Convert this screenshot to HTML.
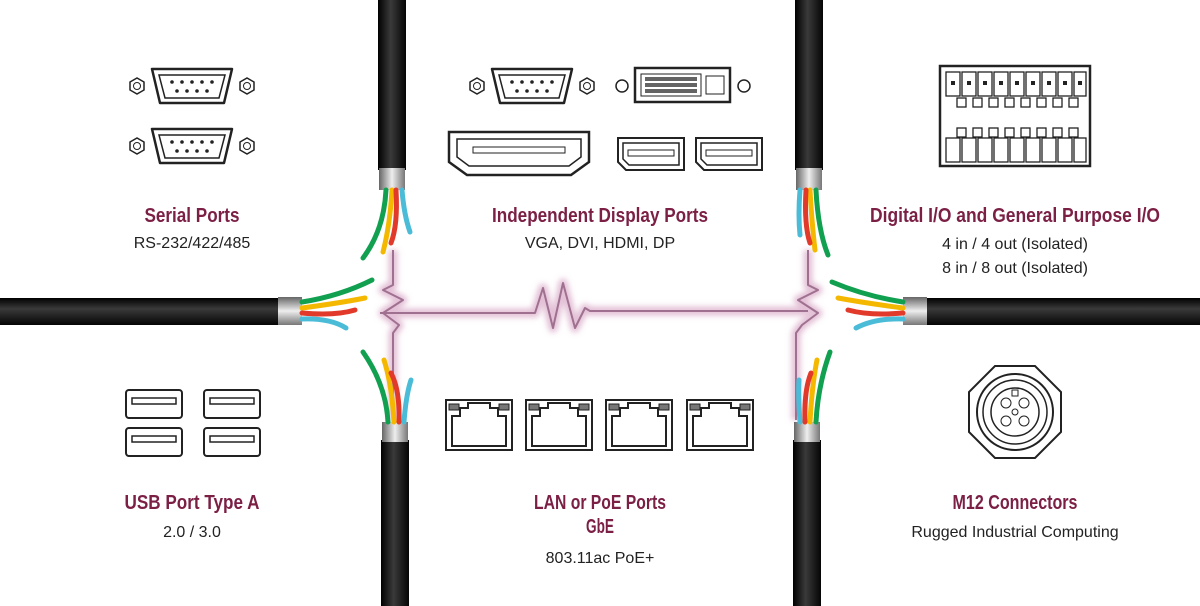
<!DOCTYPE html>
<html><head><meta charset="utf-8"><style>
html,body{margin:0;padding:0;background:#fff;}
svg{display:block}
.t{font-family:"Liberation Sans Narrow","Liberation Sans",sans-serif;font-weight:bold;fill:#7b1f45;font-size:20px;text-anchor:middle}
.s{font-family:"Liberation Sans Narrow","Liberation Sans",sans-serif;fill:#222;font-size:16px;text-anchor:middle}
</style></head><body>
<svg width="1200" height="606" viewBox="0 0 1200 606" xmlns="http://www.w3.org/2000/svg">
<defs>
<linearGradient id="bv" x1="0" x2="1" y1="0" y2="0"><stop offset="0" stop-color="#000"/><stop offset=".45" stop-color="#3a3a3a"/><stop offset="1" stop-color="#050505"/></linearGradient>
<linearGradient id="bh" x1="0" x2="0" y1="0" y2="1"><stop offset="0" stop-color="#000"/><stop offset=".4" stop-color="#3a3a3a"/><stop offset="1" stop-color="#050505"/></linearGradient>
<linearGradient id="sv" x1="0" x2="1" y1="0" y2="0"><stop offset="0" stop-color="#666"/><stop offset=".5" stop-color="#eee"/><stop offset="1" stop-color="#777"/></linearGradient>
<linearGradient id="sh" x1="0" x2="0" y1="0" y2="1"><stop offset="0" stop-color="#666"/><stop offset=".5" stop-color="#eee"/><stop offset="1" stop-color="#777"/></linearGradient>
<g id="lan"><rect x="0" y="0" width="66" height="50" fill="#fff" stroke="#222" stroke-width="2"/><path d="M6 46V16h8V8h8V3h22v5h8v8h8v30z" fill="none" stroke="#222" stroke-width="2"/><rect x="3" y="4" width="10" height="6" fill="#777" stroke="#222"/><rect x="53" y="4" width="10" height="6" fill="#777" stroke="#222"/></g>
<g id="usb"><rect x="0" y="0" width="56" height="28" rx="3" fill="#fff" stroke="#222" stroke-width="2"/><rect x="6" y="8" width="44" height="6" fill="none" stroke="#222" stroke-width="1.5"/></g>
<g id="db9"><path d="M-40 -17h80l-8 34h-64z" fill="#fff" stroke="#222" stroke-width="2.5" stroke-linejoin="round"/><path d="M-33 -11h66l-6 23h-54z" fill="none" stroke="#222" stroke-width="1.5"/>
<g fill="#222"><circle cx="-20" cy="-4" r="1.8"/><circle cx="-10" cy="-4" r="1.8"/><circle cx="0" cy="-4" r="1.8"/><circle cx="10" cy="-4" r="1.8"/><circle cx="20" cy="-4" r="1.8"/><circle cx="-15" cy="5" r="1.8"/><circle cx="-5" cy="5" r="1.8"/><circle cx="5" cy="5" r="1.8"/><circle cx="15" cy="5" r="1.8"/></g>
<polygon points="-62,-8 -55,-12 -48,-8 -48,0 -55,4 -62,0" transform="translate(0,4)" fill="#fff" stroke="#222" stroke-width="1.5"/><circle cx="-55" cy="0" r="3.5" fill="none" stroke="#222"/>
<polygon points="48,-8 55,-12 62,-8 62,0 55,4 48,0" transform="translate(0,4)" fill="#fff" stroke="#222" stroke-width="1.5"/><circle cx="55" cy="0" r="3.5" fill="none" stroke="#222"/></g>
<g id="dp"><path d="M0 0h66v32h-58l-8-8z" fill="#fff" stroke="#222" stroke-width="2"/><path d="M5 5h56v22h-50l-6-6z" fill="none" stroke="#222" stroke-width="1.5"/><rect x="10" y="12" width="46" height="6" fill="#fff" stroke="#222"/></g>
<filter id="glow"><feGaussianBlur stdDeviation="3"/></filter>
</defs>

<g fill="none" stroke-linejoin="round">
<path d="M380 313H535l8-25l10 40l10-45l12 45l10-20l5 3H808M393 250V285l-10 5l20 10l-20 13l16 12l-6 8V420M808 250V285l10 5l-20 10l20 13l-16 12l-6 8V420" stroke="#e3c0d6" stroke-width="9" filter="url(#glow)"/>
<path d="M380 313H535l8-25l10 40l10-45l12 45l10-20l5 3H808M393 250V285l-10 5l20 10l-20 13l16 12l-6 8V420M808 250V285l10 5l-20 10l20 13l-16 12l-6 8V420" stroke="#a07090" stroke-width="2"/>
</g>

<g>
<rect x="378" y="0" width="28" height="170" fill="url(#bv)"/><rect x="379" y="168" width="26" height="22" fill="url(#sv)"/>
<rect x="381" y="440" width="28" height="166" fill="url(#bv)"/><rect x="382" y="422" width="26" height="20" fill="url(#sv)"/>
<rect x="795" y="0" width="28" height="170" fill="url(#bv)"/><rect x="796" y="168" width="26" height="22" fill="url(#sv)"/>
<rect x="793" y="440" width="28" height="166" fill="url(#bv)"/><rect x="794" y="422" width="26" height="20" fill="url(#sv)"/>
<rect x="0" y="298" width="280" height="27" fill="url(#bh)"/><rect x="278" y="297" width="24" height="28" fill="url(#sh)"/>
<rect x="925" y="298" width="275" height="27" fill="url(#bh)"/><rect x="903" y="297" width="24" height="28" fill="url(#sh)"/>
</g>
<g fill="none" stroke-width="5" stroke-linecap="round">
<path d="M386 190Q384 230 363 258" stroke="#10a050"/><path d="M392 190Q390 225 383 252" stroke="#f5b800"/><path d="M396 190Q398 225 391 243" stroke="#e23a2a"/><path d="M402 190Q404 215 410 232" stroke="#4bbcd8"/>
<path d="M388 422Q386 385 363 352" stroke="#10a050"/><path d="M394 422Q392 385 384 360" stroke="#f5b800"/><path d="M399 422Q400 390 391 373" stroke="#e23a2a"/><path d="M404 422Q406 395 411 380" stroke="#4bbcd8"/>
<path d="M816 190Q818 230 828 255" stroke="#10a050"/><path d="M810 190Q812 225 815 250" stroke="#f5b800"/><path d="M806 190Q804 225 810 243" stroke="#e23a2a"/><path d="M800 190Q798 215 800 235" stroke="#4bbcd8"/>
<path d="M816 422Q818 385 830 352" stroke="#10a050"/><path d="M810 422Q812 385 817 360" stroke="#f5b800"/><path d="M805 422Q804 390 811 373" stroke="#e23a2a"/><path d="M800 422Q798 395 799 380" stroke="#4bbcd8"/>
<path d="M302 302Q340 296 372 280" stroke="#10a050"/><path d="M302 308Q340 303 365 298" stroke="#f5b800"/><path d="M302 313Q335 316 355 310" stroke="#e23a2a"/><path d="M302 319Q330 318 346 328" stroke="#4bbcd8"/>
<path d="M903 302Q865 296 832 282" stroke="#10a050"/><path d="M903 308Q865 303 838 298" stroke="#f5b800"/><path d="M903 313Q870 316 848 310" stroke="#e23a2a"/><path d="M903 319Q875 318 856 328" stroke="#4bbcd8"/>
</g>

<use href="#db9" x="192" y="86"/><use href="#db9" x="192" y="146"/>
<g transform="translate(532,86)"><use href="#db9"/></g>
<g transform="translate(635,68)"><rect width="95" height="34" fill="#fff" stroke="#222" stroke-width="2.5"/><g stroke="#222" fill="none"><rect x="6" y="6" width="60" height="22"/></g>
<g fill="#222"><rect x="10" y="9" width="52" height="4" opacity=".7"/><rect x="10" y="15" width="52" height="4" opacity=".7"/><rect x="10" y="21" width="52" height="4" opacity=".7"/></g><rect x="71" y="8" width="18" height="18" fill="none" stroke="#222"/></g>
<circle cx="622" cy="86" r="6" fill="none" stroke="#222" stroke-width="1.5"/><circle cx="744" cy="86" r="6" fill="none" stroke="#222" stroke-width="1.5"/>
<g transform="translate(449,132)"><path d="M0 0h140v30l-18 13h-104l-18-13z" fill="#fff" stroke="#222" stroke-width="2.5"/><path d="M8 7h124v18l-12 9h-100l-12-9z" fill="none" stroke="#222" stroke-width="1.5"/><rect x="24" y="15" width="92" height="6" fill="#fff" stroke="#222"/></g>
<use href="#dp" x="618" y="138"/><use href="#dp" x="696" y="138"/>
<g transform="translate(940,66)"><rect width="150" height="100" fill="#fff" stroke="#222" stroke-width="2.5"/>
<g fill="#fff" stroke="#222" stroke-width="1.3">
<rect x="6" y="6" width="14" height="24"/><rect x="22" y="6" width="14" height="24"/><rect x="38" y="6" width="14" height="24"/><rect x="54" y="6" width="14" height="24"/><rect x="70" y="6" width="14" height="24"/><rect x="86" y="6" width="14" height="24"/><rect x="102" y="6" width="14" height="24"/><rect x="118" y="6" width="14" height="24"/><rect x="134" y="6" width="12" height="24"/>
<rect x="17" y="32" width="9" height="9"/><rect x="33" y="32" width="9" height="9"/><rect x="49" y="32" width="9" height="9"/><rect x="65" y="32" width="9" height="9"/><rect x="81" y="32" width="9" height="9"/><rect x="97" y="32" width="9" height="9"/><rect x="113" y="32" width="9" height="9"/><rect x="129" y="32" width="9" height="9"/>
<rect x="17" y="62" width="9" height="9"/><rect x="33" y="62" width="9" height="9"/><rect x="49" y="62" width="9" height="9"/><rect x="65" y="62" width="9" height="9"/><rect x="81" y="62" width="9" height="9"/><rect x="97" y="62" width="9" height="9"/><rect x="113" y="62" width="9" height="9"/><rect x="129" y="62" width="9" height="9"/>
<rect x="6" y="72" width="14" height="24"/><rect x="22" y="72" width="14" height="24"/><rect x="38" y="72" width="14" height="24"/><rect x="54" y="72" width="14" height="24"/><rect x="70" y="72" width="14" height="24"/><rect x="86" y="72" width="14" height="24"/><rect x="102" y="72" width="14" height="24"/><rect x="118" y="72" width="14" height="24"/><rect x="134" y="72" width="12" height="24"/>
</g>
<g fill="#222"><rect x="11" y="15" width="4" height="4"/><rect x="27" y="15" width="4" height="4"/><rect x="43" y="15" width="4" height="4"/><rect x="59" y="15" width="4" height="4"/><rect x="75" y="15" width="4" height="4"/><rect x="91" y="15" width="4" height="4"/><rect x="107" y="15" width="4" height="4"/><rect x="123" y="15" width="4" height="4"/><rect x="138" y="15" width="4" height="4"/></g></g>
<use href="#usb" x="126" y="390"/><use href="#usb" x="204" y="390"/><use href="#usb" x="126" y="428"/><use href="#usb" x="204" y="428"/>
<use href="#lan" x="446" y="400"/><use href="#lan" x="526" y="400"/><use href="#lan" x="606" y="400"/><use href="#lan" x="687" y="400"/>
<g transform="translate(1015,412)" fill="none" stroke="#222">
<path d="M-20 -46h40l26 26v40l-26 26h-40l-26-26v-40z" stroke-width="2"/>
<circle r="38" stroke-width="2"/><circle r="32" stroke-width="1.5"/><circle r="24" stroke-width="1.5"/>
<circle cx="-9" cy="-9" r="5"/><circle cx="9" cy="-9" r="5"/><circle cx="-9" cy="9" r="5"/><circle cx="9" cy="9" r="5"/><circle r="3"/><rect x="-3" y="-22" width="6" height="6"/>
</g>

<text class="t" x="192" y="222" textLength="95" lengthAdjust="spacingAndGlyphs">Serial Ports</text><text class="s" x="192" y="248">RS-232/422/485</text>
<text class="t" x="600" y="222" textLength="216" lengthAdjust="spacingAndGlyphs">Independent Display Ports</text><text class="s" x="600" y="248">VGA, DVI, HDMI, DP</text>
<text class="t" x="1015" y="222" textLength="290" lengthAdjust="spacingAndGlyphs">Digital I/O and General Purpose I/O</text><text class="s" x="1015" y="249">4 in / 4 out (Isolated)</text><text class="s" x="1015" y="273">8 in / 8 out (Isolated)</text>
<text class="t" x="192" y="509" textLength="135" lengthAdjust="spacingAndGlyphs">USB  Port Type A</text><text class="s" x="192" y="537">2.0 / 3.0</text>
<text class="t" x="600" y="509" textLength="132" lengthAdjust="spacingAndGlyphs">LAN or PoE Ports</text><text class="t" x="600" y="533" textLength="28" lengthAdjust="spacingAndGlyphs">GbE</text><text class="s" x="600" y="563">803.11ac PoE+</text>
<text class="t" x="1015" y="509" textLength="125" lengthAdjust="spacingAndGlyphs">M12 Connectors</text><text class="s" x="1015" y="537">Rugged Industrial Computing</text>
</svg>
</body></html>
